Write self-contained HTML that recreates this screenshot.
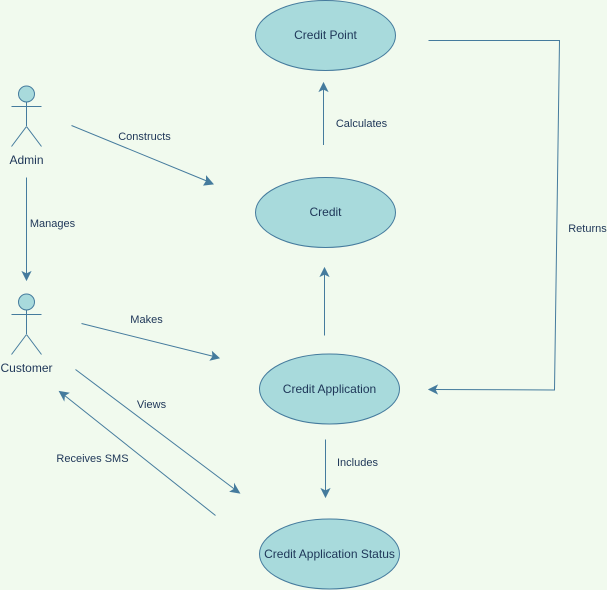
<!DOCTYPE html>
<html>
<head>
<meta charset="utf-8">
<style>
html,body{margin:0;padding:0;background:#F1FAEE;}
svg{display:block;}
text{font-family:"Liberation Sans",Helvetica,Arial,sans-serif;fill:#1D3557;text-anchor:middle;}
.n{font-size:12px;}
.l{font-size:11px;}
.c{fill:none;stroke:#457B9D;stroke-width:1;}
.a{fill:#457B9D;stroke:#457B9D;stroke-width:1;}
.e{fill:#A8DADC;stroke:#457B9D;stroke-width:1;}
</style>
</head>
<body>
<svg width="607" height="590" viewBox="0 0 607 590" xmlns="http://www.w3.org/2000/svg">
<rect width="607" height="590" fill="#F1FAEE"/>

<ellipse class="e" cx="325.5" cy="35.5" rx="70" ry="35"/>
<ellipse class="e" cx="325.5" cy="212.5" rx="70" ry="35"/>
<ellipse class="e" cx="329.5" cy="389" rx="70" ry="35"/>
<ellipse class="e" cx="329.5" cy="554" rx="70" ry="35"/>
<text class="n" x="325.5" y="39">Credit Point</text>
<text class="n" x="325.5" y="216">Credit</text>
<text class="n" x="329.5" y="393">Credit Application</text>
<text class="n" x="329.5" y="558">Credit Application Status</text>

<circle class="e" cx="26.5" cy="94" r="8"/>
<path class="c" d="M26.5 102V126M11.5 106.500H41.500M26.500 126.500L11.500 146.500M26.500 126.500L41.500 146.500"/>
<text class="n" x="26.5" y="164">Admin</text>

<circle class="e" cx="26.5" cy="302" r="8"/>
<path class="c" d="M26.5 310V334M11.500 314.500H41.500M26.500 334.500L11.500 354.500M26.500 334.500L41.500 354.500"/>
<text class="n" x="26.5" y="372">Customer</text>

<path class="c" d="M71.500 125.500L208 181.500"/>
<path class="a" d="M213 184L204 185L206.500 181L206.500 176.500Z"/>
<text class="l" x="144.500" y="140">Constructs</text>

<path class="c" d="M26.500 177.500V275"/>
<path class="a" d="M26.500 280L22.500 272L26.500 274L30.500 272Z"/>
<text class="l" x="52.500" y="227">Manages</text>

<path class="c" d="M81.500 323.500L214 356.500"/>
<path class="a" d="M219 358L210.500 360L213 356.500L212.500 352Z"/>
<text class="l" x="146.500" y="323">Makes</text>

<path class="c" d="M75.500 369.500L235 489.500"/>
<path class="a" d="M239.500 493L230.500 491.500L234.500 489L234.500 484.500Z"/>
<text class="l" x="151.500" y="408">Views</text>

<path class="c" d="M215.500 515.500L64 395"/>
<path class="a" d="M59.500 391.500L68.500 393L64.500 395.500L64 400Z"/>
<text class="l" x="92.500" y="462">Receives SMS</text>

<path class="c" d="M323.500 145V88"/>
<path class="a" d="M323.500 83L327.500 91L323.500 89L319.500 91Z"/>
<text class="l" x="361.500" y="127">Calculates</text>

<path class="c" d="M324.500 335.500V273"/>
<path class="a" d="M324.500 268L328.500 276L324.500 274L320.500 276Z"/>

<path class="c" d="M325.500 439.500V492"/>
<path class="a" d="M325.500 497L321.500 489L325.500 491L329.500 489Z"/>
<text class="l" x="357.500" y="466">Includes</text>

<path class="c" d="M428.500 40.500H559.500L554.500 390L434 389.500"/>
<path class="a" d="M429 389.500L437 385.500L435 389.500L437 393.500Z"/>
<text class="l" x="587.500" y="232">Returns</text>
</svg>
</body>
</html>
